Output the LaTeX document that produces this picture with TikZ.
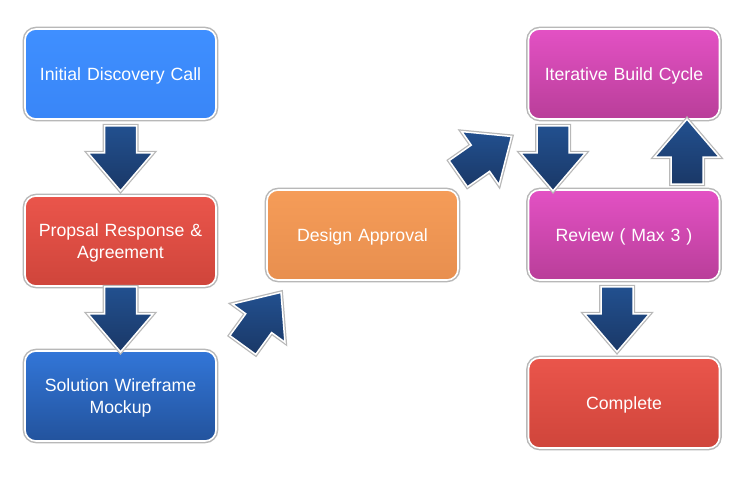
\documentclass[tikz,border=0pt]{standalone}
\usepackage{fontspec}
\setmainfont{Liberation Sans}
\usetikzlibrary{calc}
\definecolor{bluetop}{HTML}{3F8FFF}
\definecolor{bluebot}{HTML}{3986F7}
\definecolor{redtop}{HTML}{EA554B}
\definecolor{redbot}{HTML}{CF453B}
\definecolor{dbluetop}{HTML}{3276D8}
\definecolor{dbluebot}{HTML}{23539D}
\definecolor{orangetop}{HTML}{F59C58}
\definecolor{orangebot}{HTML}{E88F4F}
\definecolor{purptop}{HTML}{E351C4}
\definecolor{purpbot}{HTML}{B93E99}
\definecolor{arrowtop}{HTML}{22508F}
\definecolor{arrowbot}{HTML}{1A3867}
\tikzset{
  box/.style={rectangle, rounded corners=11pt, minimum width=191pt, minimum height=90pt,
    text width=180pt, align=center, text=white, inner sep=0pt,
    font=\fontsize{17.7}{21.3}\selectfont, text height=16.5pt,
    draw=white, line width=1.6pt, preaction={draw=black!28, line width=4.6pt}},
  barrow/.pic={
    \path[preaction={draw=black!28, line width=4pt}, draw=white, line width=1.5pt,
      top color=arrowtop, bottom color=arrowbot, line join=miter]
      (0,-16) -- (27,-16) -- (27,-32.5) -- (65,0) -- (27,32.5) -- (27,16) -- (0,16) -- cycle;
  }
}
\begin{document}
\begin{tikzpicture}[x=1pt, y=-1pt]
\useasboundingbox (0,0) rectangle (748,482);
\fill[white] (0,0) rectangle (748,482);

\node[box, top color=bluetop, bottom color=bluebot] (b1) at (120.5,74) {Initial Discovery Call};
\node[box, top color=redtop, bottom color=redbot] (b2) at (120.5,241) {Propsal Response \&\\Agreement};
\node[box, top color=dbluetop, bottom color=dbluebot] (b3) at (120.5,396) {Solution Wireframe\\Mockup};
\node[box, top color=orangetop, bottom color=orangebot] (b4) at (362.5,235) {Design Approval};
\node[box, top color=purptop, bottom color=purpbot] (b5) at (624,74) {Iterative Build Cycle};
\node[box, top color=purptop, bottom color=purpbot] (b6) at (624,235) {Review ( Max 3 )};
\node[box, top color=redtop, bottom color=redbot] (b7) at (624,403) {Complete};

\coordinate (a1) at ([yshift=-6pt]b1.south);
\coordinate (a2) at (b2.south);
\coordinate (a3) at ($(b3.east)+(26,-51)$);
\coordinate (a4) at ($(b4.north east)+(-0.5,-15.5)$);
\coordinate (a5) at ([xshift=-71pt,yshift=-6pt]b5.south);
\coordinate (a6) at ([xshift=63pt,yshift=5pt]b6.north);
\coordinate (a7) at ([xshift=-7pt,yshift=-6pt]b6.south);

\pic[rotate=-90] at (a1) {barrow};
\pic[rotate=-90] at (a2) {barrow};
\pic[rotate=54] at (a3) {barrow};
\pic[rotate=35] at (a4) {barrow};
\pic[rotate=-90] at (a5) {barrow};
\pic[rotate=90] at (a6) {barrow};
\pic[rotate=-90] at (a7) {barrow};
\end{tikzpicture}
\end{document}
